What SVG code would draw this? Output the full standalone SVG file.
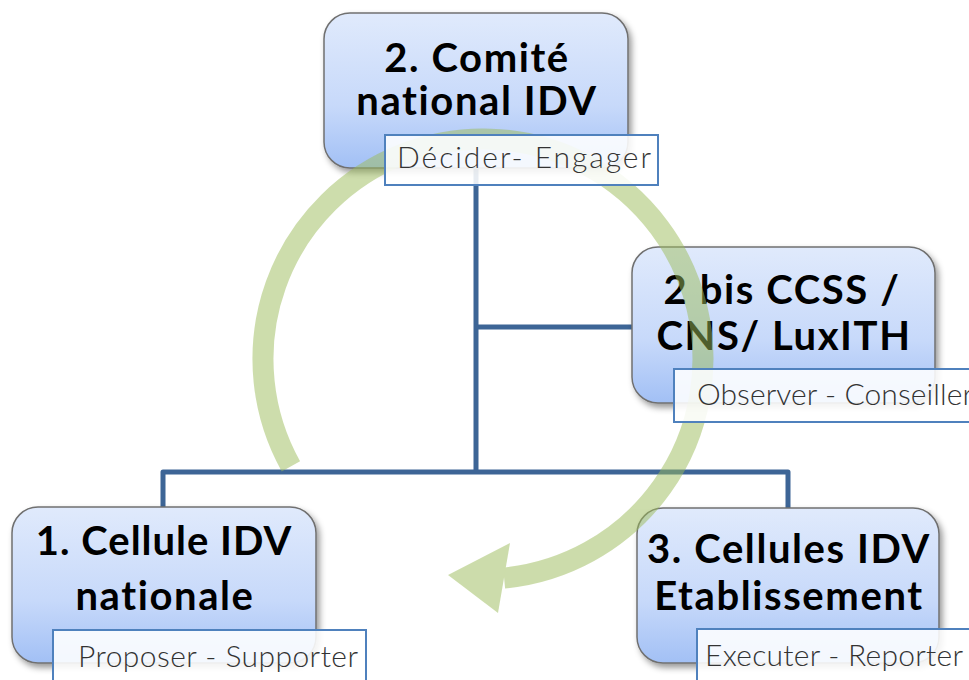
<svg xmlns="http://www.w3.org/2000/svg" width="969" height="680" viewBox="0 0 969 680">
<defs>
<linearGradient id="nodeGrad" x1="0" y1="0" x2="0" y2="1">
<stop offset="0" stop-color="#E0EAFC"/>
<stop offset="0.6" stop-color="#C7D9FA"/>
<stop offset="1" stop-color="#A2C0F5"/>
</linearGradient>
<filter id="shadow" x="-10%" y="-10%" width="125%" height="130%">
<feDropShadow dx="3" dy="4" stdDeviation="3" flood-color="#000" flood-opacity="0.4"/>
</filter>
<style>
.node{fill:url(#nodeGrad);stroke:#707070;stroke-width:1.5;filter:url(#shadow)}
.title{font-family:Lato,"Noto Sans","Liberation Sans",sans-serif;font-weight:700;font-size:40px;letter-spacing:1.6px;fill:#000;text-anchor:middle}
.lbox{fill:#fff;fill-opacity:0.88;stroke:#4F81BD;stroke-width:2}
.ltext{font-family:Lato,"Noto Sans","Liberation Sans",sans-serif;font-weight:300;font-size:30px;fill:#333}
.conn{fill:none;stroke:#3D6596;stroke-width:5;stroke-linejoin:round}
</style>
</defs>
<rect width="969" height="680" fill="#fff"/>
<g id="connectors">
<path class="conn" d="M476,168 V472"/>
<path class="conn" d="M476,327 H632"/>
<path class="conn" d="M163,507 V472 H788 V508"/>
</g>
<g id="node-comite">
<rect class="node" x="324" y="13" width="304" height="155" rx="26"/>
<text class="title" x="477" y="72">2. Comité</text>
<text class="title" x="477" y="115">national IDV</text>
</g>
<g id="node-ccss">
<rect class="node" x="632" y="247" width="303" height="156" rx="26"/>
<text class="title" x="782" y="304">2 bis CCSS /</text>
<text class="title" x="784" y="350">CNS/ LuxITH</text>
</g>
<g id="node-cellule">
<rect class="node" x="12" y="507" width="304" height="156" rx="26"/>
<text class="title" x="164" y="555" style="letter-spacing:1px">1. Cellule IDV</text>
<text class="title" x="165" y="610">nationale</text>
</g>
<g id="node-cellules-etab">
<rect class="node" x="637" y="508" width="302" height="155" rx="26"/>
<text class="title" x="789" y="563">3. Cellules IDV</text>
<text class="title" x="789" y="610">Etablissement</text>
</g>
<g id="cycle-arrow" opacity="0.5">
<path d="M290.9,466.3 A220,220 0 1 1 504.1,578" fill="none" stroke="#9BBB59" stroke-width="21"/>
<polygon points="448,575 510,543 498,613" fill="#9BBB59"/>
</g>
<g id="label-comite">
<rect class="lbox" x="385" y="135" width="273" height="50"/>
<text class="ltext" x="397" y="168" textLength="254" lengthAdjust="spacing">Décider- Engager</text>
</g>
<g id="label-ccss">
<rect class="lbox" x="674" y="369" width="310" height="53"/>
<text class="ltext" x="697" y="405" textLength="276" lengthAdjust="spacing">Observer - Conseiller</text>
</g>
<g id="label-cellule">
<rect class="lbox" x="53" y="630" width="313" height="60"/>
<text class="ltext" x="78" y="667" textLength="280" lengthAdjust="spacing">Proposer - Supporter</text>
</g>
<g id="label-cellules-etab">
<rect class="lbox" x="697" y="629" width="290" height="60"/>
<text class="ltext" x="705" y="666" textLength="258" lengthAdjust="spacing">Executer - Reporter</text>
</g>
</svg>
